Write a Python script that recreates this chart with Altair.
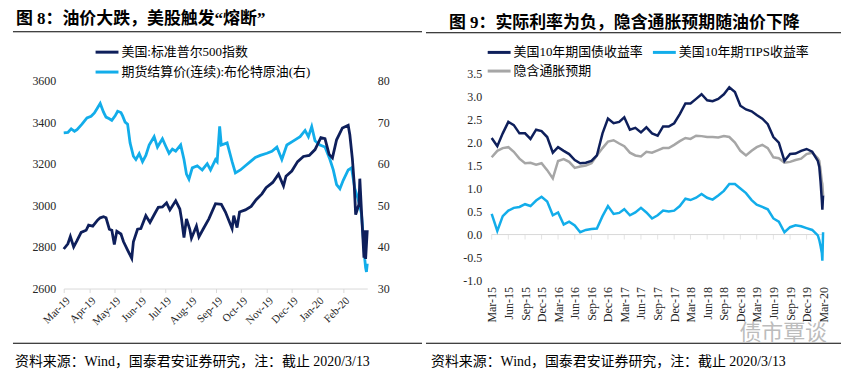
import altair as alt
import pandas as pd

NAVY = "#0e1f5b"
LIGHT = "#12adea"
GREY = "#a6a6a6"
AXISC = "#d9d9d9"
SERIF = "'Liberation Serif', 'Noto Sans CJK SC'"
CJK = "'Liberation Serif', 'Noto Sans CJK SC'"

# ---------------- left panel data ----------------
sp_name = "美国:标准普尔500指数"
br_name = "期货结算价(连续):布伦特原油(右)"

sp_dates = ["2019-03-13", "2019-03-18", "2019-03-21", "2019-03-25", "2019-03-29", "2019-04-03",
            "2019-04-09", "2019-04-12", "2019-04-17", "2019-04-23", "2019-04-26", "2019-04-30",
            "2019-05-03", "2019-05-07", "2019-05-10", "2019-05-13", "2019-05-16", "2019-05-21",
            "2019-05-24", "2019-05-29", "2019-06-03", "2019-06-05", "2019-06-10", "2019-06-14",
            "2019-06-20", "2019-06-25", "2019-07-01", "2019-07-05", "2019-07-10", "2019-07-15",
            "2019-07-19", "2019-07-26", "2019-07-31", "2019-08-02", "2019-08-05", "2019-08-08",
            "2019-08-12", "2019-08-14", "2019-08-20", "2019-08-23", "2019-08-28", "2019-09-04",
            "2019-09-12", "2019-09-19", "2019-09-24", "2019-10-02", "2019-10-04", "2019-10-08",
            "2019-10-11", "2019-10-18", "2019-10-25", "2019-10-31", "2019-11-07", "2019-11-12",
            "2019-11-20", "2019-11-27", "2019-12-03", "2019-12-06", "2019-12-13", "2019-12-20",
            "2019-12-27", "2020-01-03", "2020-01-10", "2020-01-17", "2020-01-22", "2020-01-27",
            "2020-01-31", "2020-02-05", "2020-02-12", "2020-02-19", "2020-02-21", "2020-02-24",
            "2020-02-26", "2020-02-28", "2020-03-03", "2020-03-04", "2020-03-06", "2020-03-09",
            "2020-03-10", "2020-03-11", "2020-03-13"]
sp_values = [2790, 2815, 2850, 2800, 2830, 2870,
             2880, 2905, 2900, 2930, 2940, 2945,
             2940, 2885, 2880, 2812, 2875, 2862,
             2826, 2785, 2745, 2825, 2885, 2888,
             2950, 2918, 2962, 2990, 2992, 3012,
             2978, 3022, 2982, 2935, 2845, 2935,
             2885, 2842, 2900, 2848, 2885, 2935,
             3008, 3005, 2968, 2888, 2950, 2893,
             2968, 2978, 2995, 3027, 3055, 3085,
             3110, 3150, 3093, 3140, 3165, 3210,
             3235, 3240, 3268, 3325, 3320, 3245,
             3228, 3315, 3372, 3385, 3338, 3225,
             3118, 2955, 3005, 3128, 2972, 2748,
             2880, 2742, 2880]

br_dates = ["2019-03-13", "2019-03-18", "2019-03-22", "2019-03-26", "2019-03-29", "2019-04-04",
            "2019-04-10", "2019-04-15", "2019-04-19", "2019-04-23", "2019-04-26", "2019-04-30",
            "2019-05-03", "2019-05-07", "2019-05-10", "2019-05-14", "2019-05-17", "2019-05-21",
            "2019-05-23", "2019-05-26", "2019-05-29", "2019-06-01", "2019-06-05", "2019-06-08",
            "2019-06-12", "2019-06-16", "2019-06-20", "2019-06-24", "2019-06-30", "2019-07-04",
            "2019-07-10", "2019-07-14", "2019-07-18", "2019-07-22", "2019-07-26", "2019-08-01",
            "2019-08-05", "2019-08-08", "2019-08-11", "2019-08-15", "2019-08-21", "2019-08-27",
            "2019-09-02", "2019-09-06", "2019-09-12", "2019-09-14", "2019-09-17", "2019-09-19",
            "2019-09-26", "2019-10-02", "2019-10-06", "2019-10-12", "2019-10-18", "2019-10-24",
            "2019-10-30", "2019-11-05", "2019-11-13", "2019-11-19", "2019-11-25", "2019-12-01",
            "2019-12-07", "2019-12-15", "2019-12-23", "2019-12-29", "2020-01-02", "2020-01-06",
            "2020-01-10", "2020-01-16", "2020-01-22", "2020-01-28", "2020-02-01", "2020-02-05",
            "2020-02-09", "2020-02-13", "2020-02-19", "2020-02-23", "2020-02-27", "2020-03-02",
            "2020-03-06", "2020-03-09", "2020-03-10", "2020-03-11", "2020-03-12", "2020-03-13"]
br_values = [67.4, 67.5, 68.4, 67.8, 68.2, 69.5,
             71.0, 71.4, 72.2, 73.5, 74.5, 72.4,
             71.2, 70.8, 70.4, 71.5, 72.6, 72.3,
             71.5, 70.0, 69.5, 65.0, 61.8, 61.0,
             62.4, 60.5, 62.0, 64.5, 66.5, 64.0,
             66.0, 64.2, 62.5, 63.5, 63.0, 64.5,
             61.0, 57.5, 56.3, 59.0, 59.5, 58.5,
             60.0, 58.5, 61.0, 60.5, 69.0, 64.5,
             65.0, 60.5, 57.8, 58.5, 59.5, 60.5,
             61.5, 62.0, 62.5, 63.0, 64.0, 61.0,
             64.5, 65.5, 66.5, 68.0, 66.5, 68.9,
             65.5, 64.5, 64.0, 61.0, 58.5, 55.0,
             54.0, 56.0, 58.5, 59.0, 54.0, 51.5,
             48.0, 40.0, 37.0, 35.0, 34.0, 36.0]

left_ticks = ["2019-03-13", "2019-04-13", "2019-05-13", "2019-06-13", "2019-07-13", "2019-08-13",
              "2019-09-13", "2019-10-13", "2019-11-13", "2019-12-13", "2020-01-13", "2020-02-13"]

# ---------------- right panel data ----------------
name_ust = "美国10年期国债收益率"
name_tips = "美国10年期TIPS收益率"
name_be = "隐含通胀预期"
r_dates = ["2015-03-13", "2015-04-13", "2015-05-13", "2015-06-13", "2015-07-13", "2015-08-13",
           "2015-09-13", "2015-10-13", "2015-11-13", "2015-12-13", "2016-01-13", "2016-02-13",
           "2016-03-13", "2016-04-13", "2016-05-13", "2016-06-13", "2016-07-13", "2016-08-13",
           "2016-09-13", "2016-10-13", "2016-11-13", "2016-12-13", "2017-01-13", "2017-02-13",
           "2017-03-13", "2017-04-13", "2017-05-13", "2017-06-13", "2017-07-13", "2017-08-13",
           "2017-09-13", "2017-10-13", "2017-11-13", "2017-12-13", "2018-01-13", "2018-02-13",
           "2018-03-13", "2018-04-13", "2018-05-13", "2018-06-13", "2018-07-13", "2018-08-13",
           "2018-09-13", "2018-10-13", "2018-11-13", "2018-12-13", "2019-01-13", "2019-02-13",
           "2019-03-13", "2019-04-13", "2019-05-13", "2019-06-13", "2019-07-13", "2019-08-13",
           "2019-09-13", "2019-10-13", "2019-11-13", "2019-12-13", "2020-01-13", "2020-02-13",
           "2020-02-21", "2020-02-28", "2020-03-06", "2020-03-09", "2020-03-13"]
ust10y = [2.10, 1.92, 2.20, 2.45, 2.38, 2.20, 2.20, 2.08, 2.28, 2.25, 2.12, 1.78,
          1.90, 1.82, 1.75, 1.62, 1.55, 1.56, 1.60, 1.72, 2.20, 2.52, 2.42, 2.45,
          2.55, 2.28, 2.32, 2.22, 2.33, 2.20, 2.15, 2.35, 2.35, 2.42, 2.62, 2.85,
          2.85, 2.95, 3.05, 2.92, 2.90, 2.95, 3.05, 3.20, 3.10, 2.80, 2.72, 2.68,
          2.60, 2.52, 2.40, 2.12, 2.00, 1.60, 1.75, 1.76, 1.82, 1.86, 1.80, 1.60,
          1.47, 1.15, 0.75, 0.54, 0.85]
tips10y = [0.45, 0.08, 0.40, 0.52, 0.58, 0.60, 0.66, 0.62, 0.74, 0.82, 0.72, 0.42,
           0.48, 0.22, 0.28, 0.20, 0.05, 0.10, 0.12, 0.13, 0.40, 0.62, 0.45, 0.47,
           0.55, 0.42, 0.48, 0.58, 0.48, 0.35, 0.42, 0.52, 0.50, 0.52, 0.62, 0.78,
           0.75, 0.80, 0.88, 0.80, 0.76, 0.85, 0.95, 1.10, 1.10, 1.00, 0.90, 0.75,
           0.65, 0.60, 0.55, 0.35, 0.28, 0.05, 0.16, 0.20, 0.18, 0.14, 0.10, -0.02,
           -0.12, -0.25, -0.40, -0.57, 0.05]
breakeven = [1.68, 1.82, 1.88, 1.90, 1.80, 1.65, 1.55, 1.56, 1.52, 1.55, 1.40, 1.22,
             1.60, 1.64, 1.58, 1.45, 1.48, 1.50, 1.55, 1.72, 1.88, 2.02, 2.05, 1.98,
             1.92, 1.78, 1.72, 1.70, 1.80, 1.78, 1.83, 1.88, 1.88, 1.95, 2.03, 2.10,
             2.08, 2.15, 2.14, 2.12, 2.12, 2.11, 2.14, 2.12, 2.00, 1.82, 1.72, 1.82,
             1.90, 1.95, 1.88, 1.68, 1.66, 1.56, 1.58, 1.62, 1.65, 1.75, 1.78, 1.66,
             1.60, 1.40, 1.15, 1.10, 0.85]

right_ticks = ["2015-03-13", "2015-06-13", "2015-09-13", "2015-12-13", "2016-03-13", "2016-06-13",
               "2016-09-13", "2016-12-13", "2017-03-13", "2017-06-13", "2017-09-13", "2017-12-13",
               "2018-03-13", "2018-06-13", "2018-09-13", "2018-12-13", "2019-03-13", "2019-06-13",
               "2019-09-13", "2019-12-13", "2020-03-13"]

title_left = "图 8：油价大跌，美股触发“熔断”"
title_right = "图 9：实际利率为负，隐含通胀预期随油价下降"
source_note = "资料来源：Wind，国泰君安证券研究，注：截止 2020/3/13"
watermark = "债市覃谈"


def dt(s):
    y, m, d = (int(p) for p in s.split("-"))
    return alt.DateTime(year=y, month=m, date=d)


def local(ds):
    return [d + "T00:00:00" for d in ds]


one = pd.DataFrame({"k": [0]})


def text_layer(txt, x, y, size, weight="normal", color="#000000", font=CJK):
    return alt.Chart(one).mark_text(
        text=txt, align="left", baseline="top", fontSize=size, fontWeight=weight,
        color=color, font=font
    ).encode(x=alt.value(x), y=alt.value(y))


def hrule(x1, x2, y, color="#000000", width=1.0):
    return alt.Chart(one).mark_rule(color=color, strokeWidth=width).encode(
        x=alt.value(x1), x2=alt.value(x2), y=alt.value(y))


# ---------------- left chart ----------------
# plot area top sits 7px above the 3600 / 80 level (both panels share the same top)
LW, LH = 305, 216
sp_df = pd.DataFrame({"date": local(sp_dates), "v": sp_values, "series": sp_name})
br_df = pd.DataFrame({"date": local(br_dates), "v": br_values, "series": br_name})

legend_l = alt.Legend(orient="none", legendX=32, legendY=-33, title=None, direction="vertical",
                      symbolType="M-1.15,0L1.15,0", symbolSize=400, symbolStrokeWidth=3,
                      labelFont=CJK, labelFontSize=13, labelColor="#000000", labelOffset=3,
                      rowPadding=1, padding=0, labelLimit=400)
color_l = alt.Color("series:N", scale=alt.Scale(domain=[sp_name, br_name], range=[NAVY, LIGHT]),
                    legend=legend_l)
x_l = alt.X("date:T",
            scale=alt.Scale(domain=[dt("2019-03-13"), dt("2020-03-13")]),
            axis=alt.Axis(values=[dt(s) for s in left_ticks], format="%b-%y", labelAngle=-45,
                          title=None, grid=False, domainColor=AXISC, tickColor=AXISC, tickSize=4,
                          labelFont=SERIF, labelFontSize=11, labelColor="#262626",
                          labelFlush=False, labelOverlap=False, labelPadding=2, labelBound=False))

br_line = alt.Chart(br_df).mark_line(strokeWidth=2.8).encode(
    x=x_l,
    y=alt.Y("v:Q", scale=alt.Scale(domain=[30, 81.67], nice=False, zero=False),
            axis=alt.Axis(orient="right", values=[30, 40, 50, 60, 70, 80], title=None, grid=False,
                          domain=False, ticks=False, labelPadding=10, labelFont=SERIF,
                          labelFontSize=12, labelColor="#262626", format="d")),
    color=color_l)
sp_line = alt.Chart(sp_df).mark_line(strokeWidth=2.8).encode(
    x=x_l,
    y=alt.Y("v:Q", scale=alt.Scale(domain=[2600, 3633.4], nice=False, zero=False),
            axis=alt.Axis(orient="left", values=[2600, 2800, 3000, 3200, 3400, 3600], title=None,
                          grid=False, domain=False, ticks=False, labelPadding=8, labelFont=SERIF,
                          labelFontSize=12, labelColor="#262626", format="d")),
    color=color_l)

left = alt.layer(
    br_line, sp_line,
    text_layer(title_left, -48, -63, 17, weight="bold"),
    hrule(-51, 360, -42),
    hrule(-51, 360, 271),
    text_layer(source_note, -49, 283, 14),
).resolve_scale(y="independent").properties(width=LW, height=LH)

# ---------------- right chart ----------------
RW, RH = 333, 208
r10_df = pd.DataFrame({"date": local(r_dates), "v": ust10y, "series": name_ust})
rtips_df = pd.DataFrame({"date": local(r_dates), "v": tips10y, "series": name_tips})
rbe_df = pd.DataFrame({"date": local(r_dates), "v": breakeven, "series": name_be})

# legend grid fills column by column: column 1 = 国债 / 隐含, column 2 = TIPS
legend_r = alt.Legend(orient="none", legendX=-4, legendY=-33, title=None, columns=2,
                      symbolType="M-1.15,0L1.15,0", symbolSize=400, symbolStrokeWidth=3,
                      labelFont=CJK, labelFontSize=13, labelColor="#000000", labelOffset=3,
                      rowPadding=0, columnPadding=3, padding=0, labelLimit=400)
color_r = alt.Color("series:N",
                    scale=alt.Scale(domain=[name_ust, name_be, name_tips], range=[NAVY, GREY, LIGHT]),
                    legend=legend_r)
x_r = alt.X("date:T",
            scale=alt.Scale(domain=[dt("2015-03-13"), dt("2020-03-13")]),
            axis=alt.Axis(values=[dt(s) for s in right_ticks], format="%b-%y", labelAngle=-90,
                          labelAlign="right", labelBaseline="middle", title=None, grid=False,
                          domain=False, ticks=False, labelFont=SERIF, labelFontSize=12,
                          labelColor="#262626", labelFlush=False, labelOverlap=False,
                          labelPadding=6, labelBound=False))
y_r = alt.Y("v:Q", scale=alt.Scale(domain=[-1.0, 3.5], nice=False),
            axis=alt.Axis(values=[-1.0, -0.5, 0.0, 0.5, 1.0, 1.5, 2.0, 2.5, 3.0, 3.5],
                          labelExpr="datum.value < 0 ? '-' + format(-datum.value, '.1f') : format(datum.value, '.1f')",
                          title=None, grid=False, domain=False, ticks=False, labelPadding=10,
                          labelFont=SERIF, labelFontSize=12, labelColor="#262626"))

zero_df = pd.DataFrame({"v": [0.0]})
zero_line = alt.Chart(zero_df).mark_rule(color=AXISC, strokeWidth=1).encode(y=y_r)
zero_ticks = alt.Chart(pd.DataFrame({"date": local(right_ticks), "v": 0.0})).mark_tick(
    color=AXISC, size=5, thickness=1, orient="vertical", yOffset=2.5).encode(x=x_r, y=y_r)

be_line = alt.Chart(rbe_df).mark_line(strokeWidth=2.5).encode(x=x_r, y=y_r, color=color_r)
tips_line = alt.Chart(rtips_df).mark_line(strokeWidth=2.5).encode(x=x_r, y=y_r, color=color_r)
ust_line = alt.Chart(r10_df).mark_line(strokeWidth=2.5).encode(x=x_r, y=y_r, color=color_r)

right = alt.layer(
    zero_line, zero_ticks, be_line, tips_line, ust_line,
    hrule(-60, 340, -64, color="#ffffff"),
    text_layer(title_right, -43, -59, 17, weight="bold"),
    hrule(-66, 351, -41),
    hrule(-66, 351, 271),
    text_layer(source_note, -61, 283, 14),
    text_layer(watermark, 249, 251, 22, color="#bcbcbc", font="'Noto Sans CJK SC'"),
).properties(width=RW, height=RH)

chart = alt.hconcat(left, right, spacing=2).resolve_scale(
    color="independent").resolve_legend(color="independent").configure_view(
    stroke=None).properties(padding={"left": 4, "top": 0, "right": 0, "bottom": 0})

chart.save("out.html", embed_options={"renderer": "svg", "actions": False})
